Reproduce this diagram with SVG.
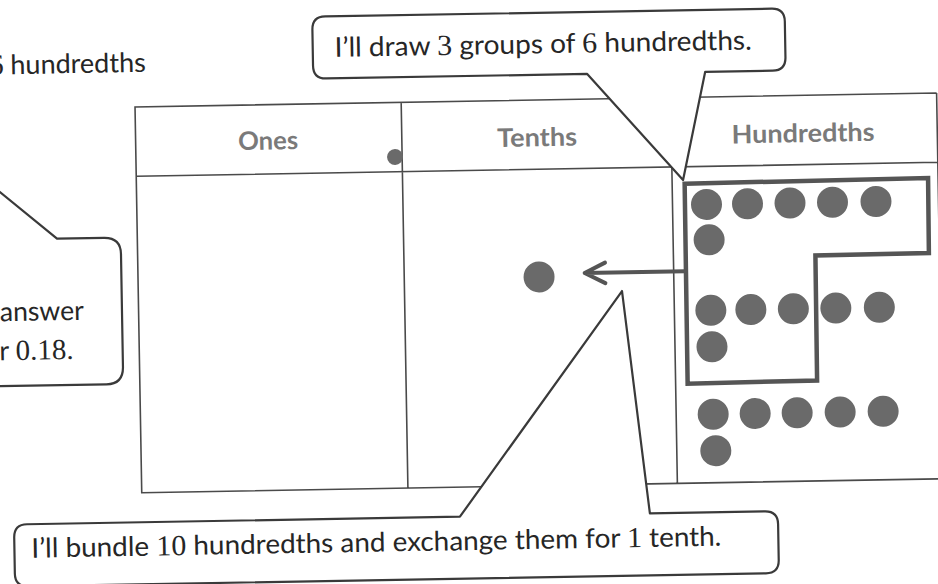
<svg xmlns="http://www.w3.org/2000/svg" width="938" height="584" viewBox="0 0 938 584">
<style>
.ln{stroke:#4a4a4a;stroke-width:1.6;fill:none}
.co{fill:#fff;stroke:#3a3a3a;stroke-width:2.2;stroke-linejoin:round}
.tx{font-family:Lato,"Liberation Sans",sans-serif;font-size:27px;fill:#262626}
.num{font-family:"Liberation Serif",serif;font-size:29px}
.hd{font-family:Lato,"Liberation Sans",sans-serif;font-size:25.5px;font-weight:700;fill:#7a7a7a;text-anchor:middle}
.dot{fill:#6a6a6a}
.grp{fill:none;stroke:#555;stroke-width:4.5;stroke-linejoin:miter}
.arr{fill:none;stroke:#555;stroke-width:4;stroke-linecap:round;stroke-linejoin:round}
</style>
<rect width="938" height="584" fill="#fff"/>
<g transform="rotate(-1 469 292)">
  <g id="chart">
    <path class="ln" d="M940 101.2 H138.3 V487 H945 M138.3 170.5 H940 M404.5 101.2 V487 M674 101.2 V487 M940 101.2 V487"/>
    <text class="hd" x="270.7" y="146" textLength="60" lengthAdjust="spacingAndGlyphs">Ones</text>
    <text class="hd" x="539.7" y="147.4" textLength="80" lengthAdjust="spacingAndGlyphs">Tenths</text>
    <text class="hd" x="805.8" y="148" textLength="143" lengthAdjust="spacingAndGlyphs">Hundredths</text>
  </g>
  <g id="header-dot"><circle class="dot" cx="397.4" cy="155.7" r="8"/></g>
  <g id="tenth-counter"><circle class="dot" cx="539.3" cy="278.2" r="15.5"/></g>
  <g id="hundredths-counters">
    <circle class="dot" cx="708" cy="208.6" r="15.5"/>
    <circle class="dot" cx="749" cy="208.6" r="15.5"/>
    <circle class="dot" cx="791.5" cy="208.6" r="15.5"/>
    <circle class="dot" cx="834" cy="208.6" r="15.5"/>
    <circle class="dot" cx="877.5" cy="208.6" r="15.5"/>
    <circle class="dot" cx="710" cy="244" r="15.5"/>
    <circle class="dot" cx="710.5" cy="314.5" r="15.5"/>
    <circle class="dot" cx="750.5" cy="314.5" r="15.5"/>
    <circle class="dot" cx="793" cy="314.5" r="15.5"/>
    <circle class="dot" cx="835.5" cy="314.5" r="15.5"/>
    <circle class="dot" cx="879" cy="314.5" r="15.5"/>
    <circle class="dot" cx="711" cy="351" r="15.5"/>
    <circle class="dot" cx="711" cy="418.5" r="15.5"/>
    <circle class="dot" cx="753" cy="418.5" r="15.5"/>
    <circle class="dot" cx="795" cy="418.5" r="15.5"/>
    <circle class="dot" cx="838" cy="418.5" r="15.5"/>
    <circle class="dot" cx="881" cy="418.5" r="15.5"/>
    <circle class="dot" cx="713" cy="455" r="15.5"/>
  </g>
  <g id="bundle-outline"><path class="grp" d="M686.5 187.5 L930 186 L929.5 261 L816 261.5 L815.5 386.5 L686 387.5 Z"/></g>
  <g id="connectors">
    <path class="arr" d="M685.5 275 H585 M605.5 265 L585 275 L605.5 285.5"/>
  </g>
  <g id="callout-draw">
    <path class="co" d="M330 14 H776.5 Q789.5 14 789.5 27 V63 Q789.5 76 776.5 76 H709 L685 183.7 L591 76 H330 Q317 76 317 63 V27 Q317 14 330 14 Z"/>
    <text class="tx" x="339" y="54.5" textLength="417" lengthAdjust="spacingAndGlyphs">I’ll draw <tspan class="num">3</tspan> groups of <tspan class="num">6</tspan> hundredths.</text>
  </g>
  <g id="callout-answer">
    <path class="co" d="M-60 131.5 L58 231.5 H105 Q121.7 231.5 121.7 248 V361 Q121.7 378 105 378 H-60 Z"/>
    <text class="tx" x="-0.5" y="313" textLength="84" lengthAdjust="spacingAndGlyphs">answer</text>
    <text class="tx" x="-1.5" y="352">r <tspan class="num">0.18.</tspan></text>
  </g>
  <g id="text-top-left">
    <text class="tx" x="-7" y="66.2"><tspan class="num">6</tspan> hundredths</text>
  </g>
  <g id="callout-bundle">
    <path class="co" d="M23 516.5 H456 L622 293.7 L646 516.5 H761 Q774 516.5 774 529.5 V565.5 Q774 578.5 761 578.5 H23 Q10 578.5 10 565.5 V529.5 Q10 516.5 23 516.5 Z"/>
    <text class="tx" x="27" y="550" textLength="690" lengthAdjust="spacingAndGlyphs">I’ll bundle <tspan class="num">10</tspan> hundredths and exchange them for <tspan class="num">1</tspan> tenth.</text>
  </g>
</g>
</svg>
